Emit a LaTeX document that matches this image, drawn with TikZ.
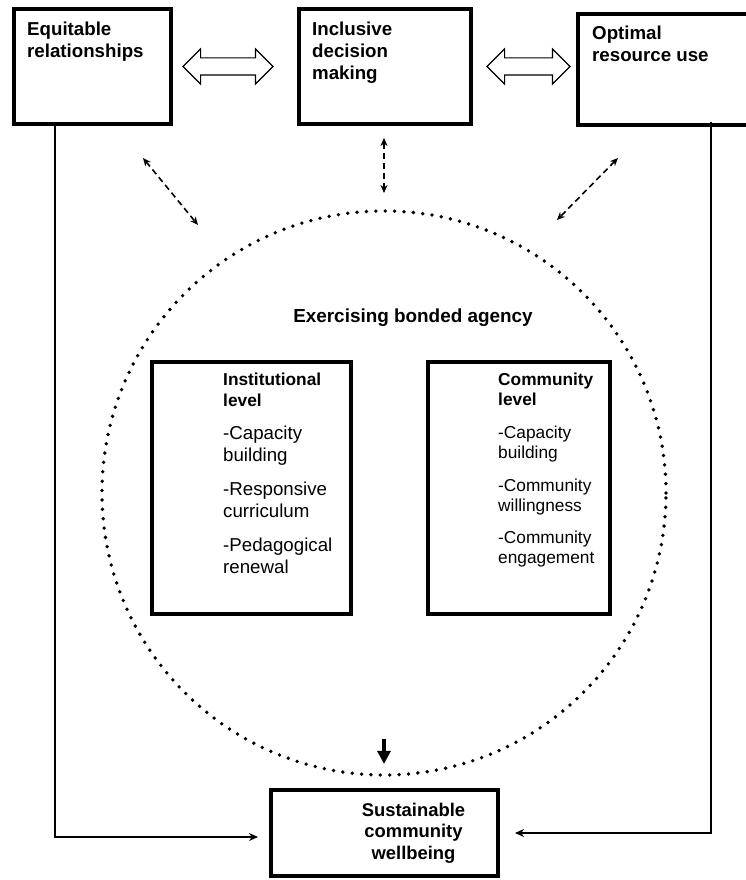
\documentclass[tikz,border=0pt]{standalone}
\usepackage{fontspec}
\setmainfont{Liberation Sans}
\usetikzlibrary{shapes, shapes.arrows, positioning, arrows.meta}

\begin{document}
\begin{tikzpicture}[
    x=1pt, y=-1pt,
    box/.style={rectangle, draw=black, line width=4pt, fill=none,
        inner sep=0pt, outer sep=0pt},
    txt/.style={rectangle, draw=none, fill=none, inner sep=0pt, anchor=north west,
        align=left, text=black, font=\fontsize{18.7}{22}\selectfont\bfseries},
    hollow/.style={double arrow, draw=black, line width=1.1pt, fill=white,
        double arrow head extend=9pt, inner xsep=0pt, inner ysep=8pt,
        text height=0pt, text depth=0pt, outer sep=0pt, double arrow tip angle=90},
    link/.style={draw=black, line width=2pt, -{Stealth[length=9pt,width=8pt]}},
    dasharrow/.style={draw=black, line width=1.6pt, dash pattern=on 6pt off 4pt,
        {Stealth[length=8pt,width=7pt]}-{Stealth[length=8pt,width=7pt]}},
    ring/.style={circle, draw=black, line width=3.8pt, line cap=round,
        dash pattern=on 0pt off 9.4pt, minimum size=564pt, inner sep=0pt}
]
\useasboundingbox (0,0) rectangle (745,880);

% top row
\node (Top01) [box, minimum width=157pt, minimum height=115pt] at (92.5,66.5) {};
\node (Top02) [box, minimum width=172pt, minimum height=115pt] at (385,66.5) {};
\node (Top03) [box, minimum width=172pt, minimum height=111pt] at (664,69.5) {};
\node (T01) [txt] at ([shift={(13pt,-13pt)}]Top01.north west) {Equitable\\relationships};
\node (T02) [txt] at ([shift={(13pt,-13pt)}]Top02.north west) {Inclusive\\decision\\making};
\node (T03) [txt] at ([shift={(14pt,-12pt)}]Top03.north west) {Optimal\\resource use};

\node (H01) [hollow, minimum height=90pt, right=12pt of Top01] {};
\node (H02) [hollow, minimum height=83pt, right=16pt of Top02] {};

% bonded agency
\node (Circ00) [ring] at (384,493) {};
\node (T04) [txt, anchor=center, font=\fontsize{18.9}{22}\selectfont\bfseries] at (413,318)
    {Exercising bonded agency};

\node (Lvl01) [box, minimum width=199pt, minimum height=252pt] at (251.5,488) {};
\node (Lvl02) [box, minimum width=182pt, minimum height=252pt] at (519,488) {};
\node (T05) [txt, font=\fontsize{18.7}{21.5}\selectfont] at ([shift={(71pt,-11pt)}]Lvl01.north west)
    {{\fontsize{17.3}{20}\selectfont\bfseries Institutional}\\[-1pt]
     {\fontsize{17.3}{20}\selectfont\bfseries level}\\[12pt]
     -Capacity\\building\\[13pt]
     -Responsive\\curriculum\\[13pt]
     -Pedagogical\\renewal};
\node (T06) [txt, font=\fontsize{17.3}{20}\selectfont] at ([shift={(70pt,-11pt)}]Lvl02.north west)
    {\textbf{Community}\\\textbf{level}\\[13pt]
     -Capacity\\building\\[13pt]
     -Community\\willingness\\[12pt]
     -Community\\engagement};

% outcome
\node (Res00) [box, minimum width=227pt, minimum height=86pt] at (384.5,833) {};
\node (T07) [txt, anchor=center, align=center, font=\fontsize{18.4}{21.5}\selectfont\bfseries]
    at ([xshift=29pt]Res00.center) {Sustainable\\community\\wellbeing};

% connectors
\coordinate (D1a) at (143,158);
\coordinate (D1b) at (198,225);
\coordinate (D2a) at (384,138);
\coordinate (D2b) at (384,193);
\coordinate (D3a) at (618,158);
\coordinate (D3b) at (557,220);
\draw[dasharrow] (D1a) -- (D1b);
\draw[dasharrow] (D2a) -- (D2b);
\draw[dasharrow] (D3a) -- (D3b);

\draw[line width=3.2pt, -{Triangle[length=13pt,width=13pt]}]
    ([yshift=38pt]Circ00.south) -- ([yshift=13pt]Circ00.south);
\draw[link, shorten >=13pt] ([xshift=-37.5pt]Top01.south) |- ([yshift=-4pt]Res00.west);
\draw[link, shorten >=17pt] ([xshift=47pt,yshift=3pt]Top03.south) |- (Res00.east);

\end{tikzpicture}
\end{document}
